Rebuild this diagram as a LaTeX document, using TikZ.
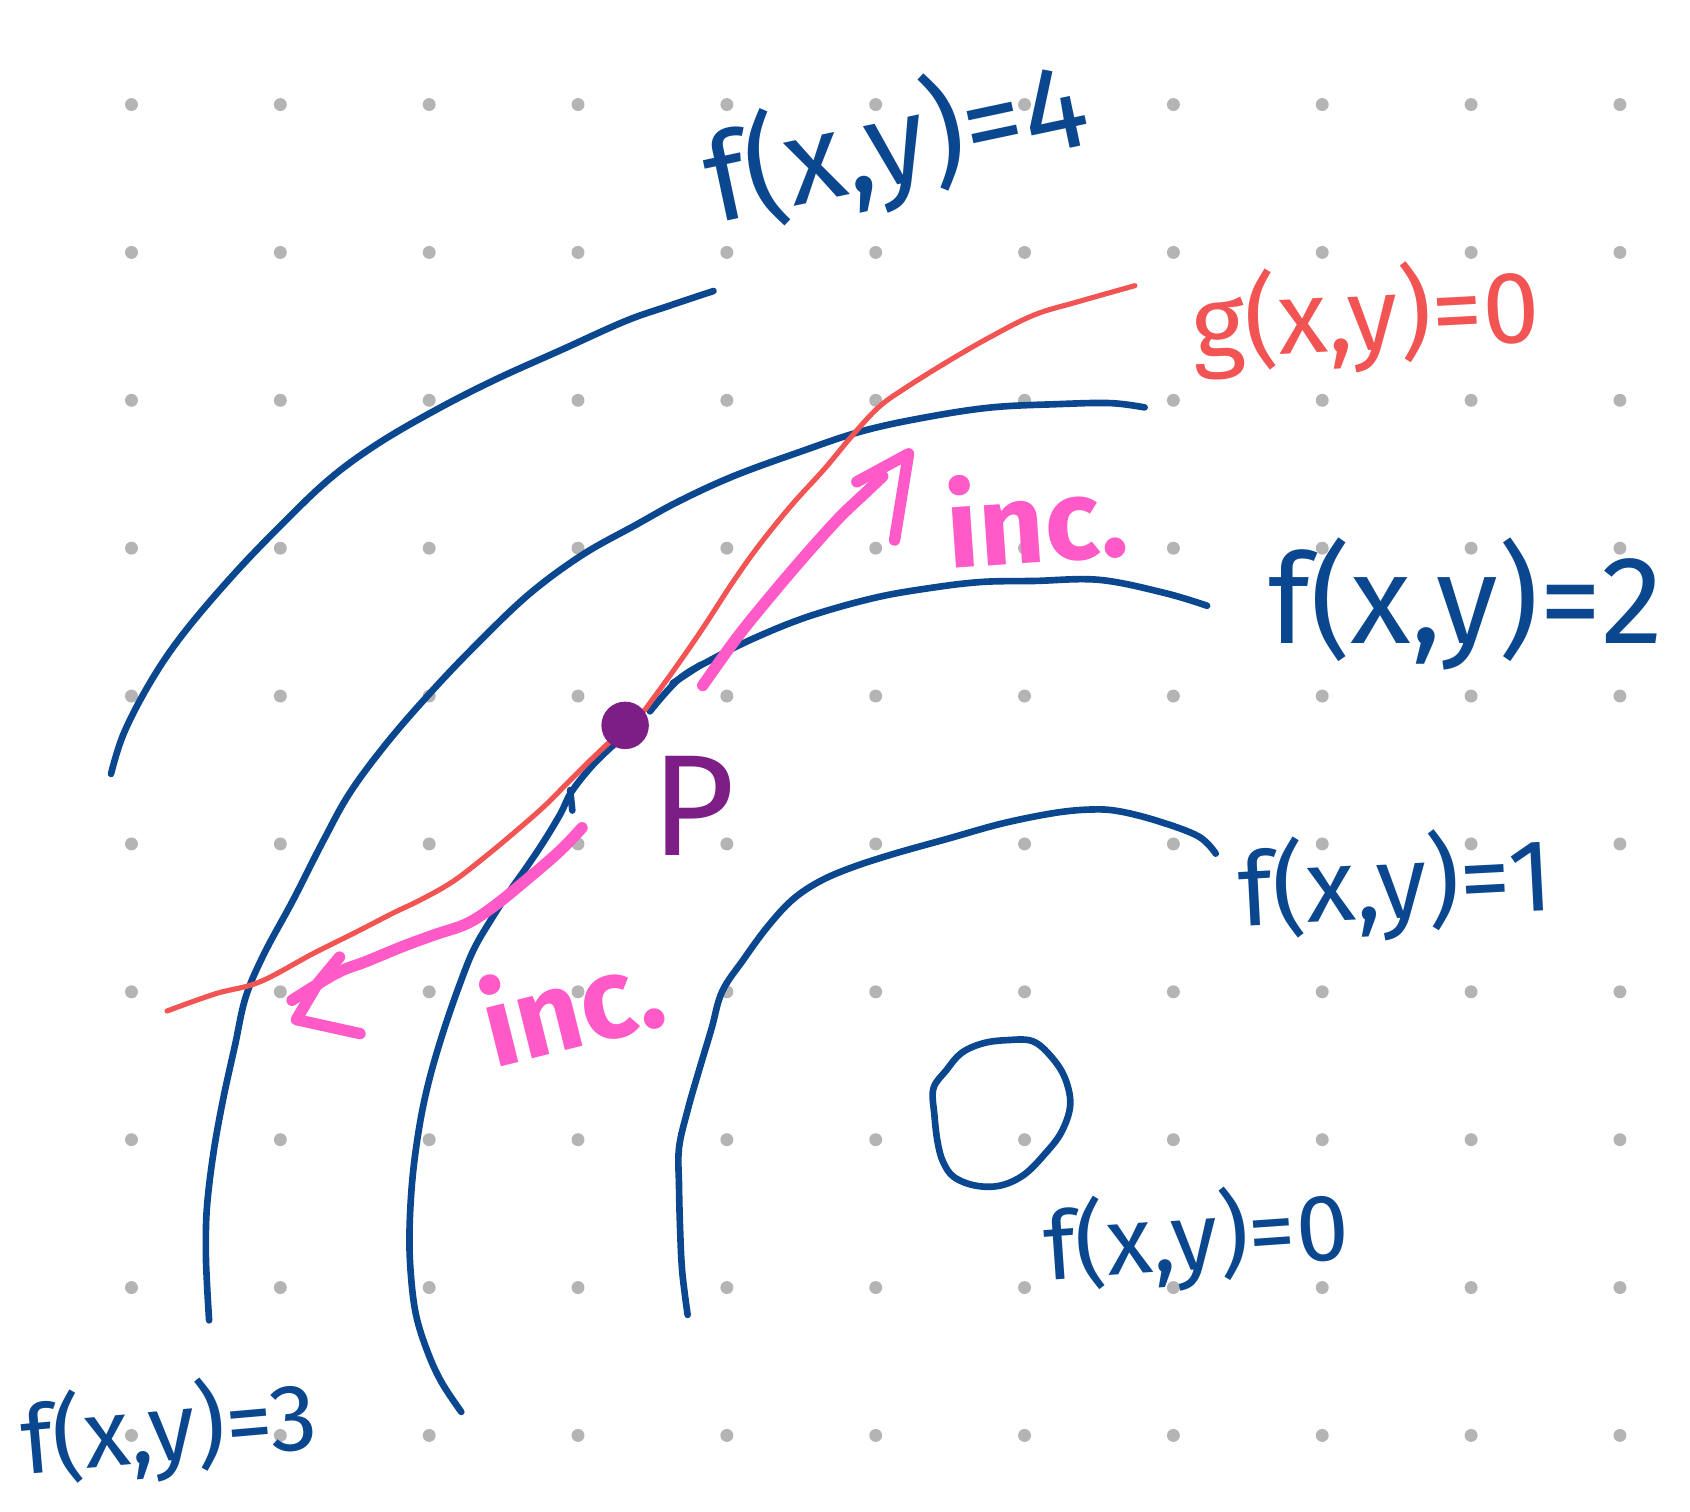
\documentclass[tikz,border=0pt]{standalone}
\usepackage{fontspec}
\setmainfont{Fira Sans}
\definecolor{fblue}{RGB}{11,71,143}
\definecolor{gred}{RGB}{242,84,84}
\definecolor{incpink}{RGB}{255,90,200}
\definecolor{ppurple}{RGB}{125,30,135}
\definecolor{dotgrey}{RGB}{180,180,180}
\begin{document}
\begin{tikzpicture}[x=0.01cm,y=-0.01cm,line cap=round,line join=round,
  lvl/.style={draw=fblue,line width=1.75pt},
  gcurve/.style={draw=gred,line width=1.35pt},
  arr/.style={draw=incpink,line width=3pt},
  flab/.style={text=fblue,inner sep=0pt,font=\fontsize{#1}{#1}\selectfont},
  glab/.style={text=gred,inner sep=0pt,font=\fontsize{#1}{#1}\selectfont},
  ilab/.style={text=incpink,inner sep=0pt,font=\bfseries\fontsize{#1}{#1}\selectfont},
]
\useasboundingbox[fill=white] (0,0) rectangle (1568,1402);
% dot grid
\foreach \i in {0,...,10}
  \foreach \j in {0,...,9}
    \fill[dotgrey] ({122+138.1*\i},{97+137.2*\j}) circle (6);

% level curve f=4
\draw[lvl] plot[smooth,tension=0.6] coordinates {(662,270) (620,284) (580,298) (520,325) (460,352) (405,380) (350,412) (305,445) (260,488) (215,535) (170,588) (140,632) (115,680) (103,718)};
% level curve f=3
\draw[lvl] plot[smooth,tension=0.6] coordinates {(1062,378) (1030,374) (980,375) (920,378) (860,387) (800,400) (740,420) (680,442) (630,465) (590,487) (540,515) (490,552) (440,600) (400,642) (360,688) (325,735) (300,780) (272,835) (245,885) (228,925) (218,970) (207,1020) (198,1070) (192,1120) (191,1160) (192,1190) (194,1225)};
% level curve f=2
\draw[lvl] plot[smooth,tension=0.6] coordinates {(1120,562) (1080,550) (1020,538) (960,539) (910,540) (860,546) (810,555) (750,572) (700,592) (660,612) (630,630) (603,660)};
\draw[lvl] (624,634) -- (650,617);
\draw[lvl] plot[smooth,tension=0.6] coordinates {(580,682) (565,695) (548,712) (530,735) (520,755) (505,780) (489,804) (472,828) (457,851) (440,880) (427,912) (412,955) (399,999) (390,1040) (383,1090) (380,1140) (381,1180) (386,1220) (397,1255) (410,1283) (428,1310)};
\draw[lvl] (529,733) -- (531,752);
% level curve f=1
\draw[lvl] plot[smooth,tension=0.6] coordinates {(1128,792) (1112,776) (1075,762) (1040,753) (1015,751) (980,754) (930,764) (880,778) (830,792) (790,805) (760,818) (735,835) (712,860) (690,890) (670,920) (660,955) (648,995) (638,1030) (630,1065) (630,1100) (631,1140) (633,1180) (638,1220)};
% level curve f=0
\draw[lvl] plot[smooth cycle,tension=0.6] coordinates {(866,1010) (878,993) (892,977) (912,968) (935,965) (958,966) (975,980) (988,1000) (993,1025) (985,1050) (970,1070) (950,1090) (928,1100) (905,1100) (885,1092) (875,1078) (870,1060) (867,1035)};

% constraint curve g=0
\draw[gcurve] plot[smooth,tension=0.6] coordinates {(1053,265) (1000,280) (960,292) (920,312) (880,335) (840,360) (815,378) (790,405) (765,435) (735,468) (705,505) (680,540) (652,583) (625,622) (598,659)};
\draw[gcurve] plot[smooth,tension=0.6] coordinates {(566,688) (545,708) (526,727) (505,748) (480,770) (450,795) (420,818) (390,835) (365,847) (330,865) (290,885) (241,911) (200,922) (155,938)};

% point P
\node[circle,fill=ppurple,minimum size=0.44cm,inner sep=0pt] (P) at (580,673) {};
\node[text=ppurple,inner sep=0pt,font=\fontsize{38}{38}\selectfont] (Plab) at (643,748) {P};

% increasing arrows
\draw[arr] plot[smooth,tension=0.6] coordinates {(652,636) (685,590) (720,547) (750,512) (779,480) (800,460) (819,442)};
\draw[arr] (795,447) -- (843,421) -- (830,501);
\draw[arr] plot[smooth,tension=0.6] coordinates {(540,768) (520,789) (490,815) (458,841) (433,857) (404,867) (374,878) (340,892) (312,903) (271,928)};
\draw[arr] (315,888) -- (295,912) -- (275,946) -- (334,959);
\node[ilab=30,rotate=4] (inc1) at (962,480) {inc.};
\node[ilab=30,rotate=14] (inc2) at (530,930) {inc.};

% labels
\node[flab=32,rotate=12] (f4) at (832,135) {f(x,y)=4};
\node[glab=27,rotate=3] (g0) at (1267,295) {g(x,y)=0};
\node[flab=33] (f2) at (1360,560) {f(x,y)=2};
\node[flab=27,rotate=3] (f1) at (1295,822) {f(x,y)=1};
\node[flab=25,rotate=4] (f0) at (1110,1150) {f(x,y)=0};
\node[flab=25,rotate=5] (f3) at (157,1328) {f(x,y)=3};
\end{tikzpicture}
\end{document}
